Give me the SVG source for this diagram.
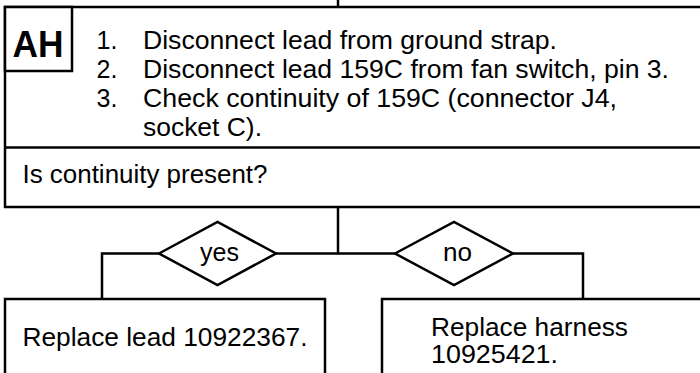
<svg xmlns="http://www.w3.org/2000/svg" width="700" height="373" viewBox="0 0 700 373">
<style>
.box{fill:#fff;stroke:#000;stroke-width:2.5}
.ln{fill:none;stroke:#000;stroke-width:2.5}
.t{font-family:"Liberation Sans",Arial,sans-serif;font-size:25px;fill:#000}
.b{font-family:"Liberation Sans",Arial,sans-serif;font-size:36px;font-weight:bold;fill:#000}
</style>
<rect width="700" height="373" fill="#fff"/>
<g id="connectors">
<line class="ln" x1="338" y1="0" x2="338" y2="7"/>
<line class="ln" x1="338" y1="207" x2="338" y2="253.5"/>
<line class="ln" x1="276" y1="253.5" x2="395" y2="253.5"/>
<polyline class="ln" points="159,253.5 102,253.5 102,299"/>
<polyline class="ln" points="513,253.5 583,253.5 583,299"/>
</g>
<g id="step-AH">
<rect class="box" x="5" y="7" width="700" height="200"/>
<line class="ln" x1="5" y1="147.5" x2="702" y2="147.5"/>
<rect class="box" x="5" y="7" width="67" height="64"/>
<text class="b" x="12.5" y="56.5" textLength="51" lengthAdjust="spacingAndGlyphs">AH</text>
<text class="t" x="96.5" y="49">1.</text>
<text class="t" x="143" y="49" textLength="414" lengthAdjust="spacingAndGlyphs">Disconnect lead from ground strap.</text>
<text class="t" x="96.5" y="78">2.</text>
<text class="t" x="143" y="78" textLength="526" lengthAdjust="spacingAndGlyphs">Disconnect lead 159C from fan switch, pin 3.</text>
<text class="t" x="96.5" y="107">3.</text>
<text class="t" x="143" y="107" textLength="474" lengthAdjust="spacingAndGlyphs">Check continuity of 159C (connector J4,</text>
<text class="t" x="143" y="135.5" textLength="119" lengthAdjust="spacingAndGlyphs">socket C).</text>
<text class="t" x="22.5" y="183" textLength="245" lengthAdjust="spacingAndGlyphs">Is continuity present?</text>
</g>
<g id="yes">
<polygon class="box" points="159,253.5 217.5,222 276,253.5 217.5,285"/>
<text class="t" x="200" y="261" textLength="39" lengthAdjust="spacingAndGlyphs">yes</text>
</g>
<g id="no">
<polygon class="box" points="395,253.5 454,222 513,253.5 454,285"/>
<text class="t" x="443" y="261" textLength="29" lengthAdjust="spacingAndGlyphs">no</text>
</g>
<g id="replace-lead">
<rect class="box" x="5" y="299" width="320" height="80"/>
<text class="t" x="22.5" y="346" textLength="285" lengthAdjust="spacingAndGlyphs">Replace lead 10922367.</text>
</g>
<g id="replace-harness">
<rect class="box" x="382" y="299" width="330" height="80"/>
<text class="t" x="431" y="336" textLength="197" lengthAdjust="spacingAndGlyphs">Replace harness</text>
<text class="t" x="431" y="363" textLength="127" lengthAdjust="spacingAndGlyphs">10925421.</text>
</g>
</svg>
